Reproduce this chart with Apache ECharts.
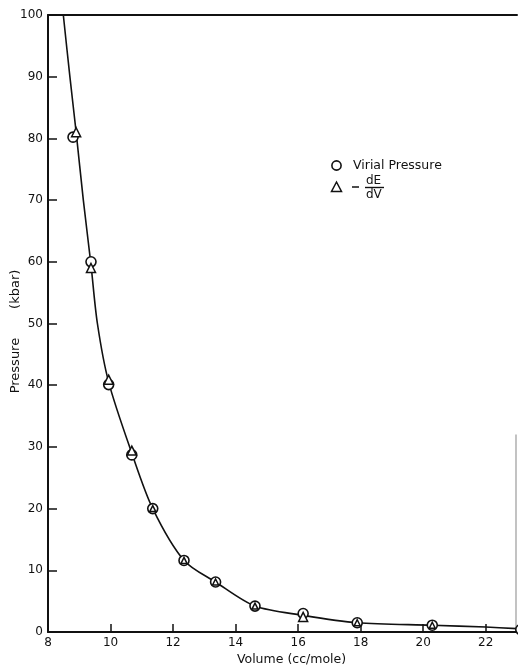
<!DOCTYPE html>
<html>
<head>
<meta charset="utf-8">
<script src="https://cdn.jsdelivr.net/npm/echarts@6/dist/echarts.min.js"></script>
<style>
  html, body { margin: 0; padding: 0; background: #fff; }
  #chart { width: 518px; height: 668px; }
</style>
</head>
<body>
<div id="chart"></div>
<script>
// Axis ranges and tick labels
const volumeTicks = [8, 10, 12, 14, 16, 18, 20, 22];
const pressureTicks = [0, 10, 20, 30, 40, 50, 60, 70, 80, 90, 100];

// Virial pressure (circles)
const virialVolume   = [8.80, 9.375, 9.94, 10.68, 11.35, 12.35, 13.36, 14.62, 16.16, 17.89, 20.29, 23.12];
const virialPressure = [80.2, 60.0, 40.1, 28.7, 20.0, 11.6, 8.1, 4.2, 3.0, 1.5, 1.1, 0.4];

// -dE/dV (triangles)
const dEdVVolume   = [8.90, 9.375, 9.94, 10.68, 11.35, 12.35, 13.36, 14.62, 16.16, 17.89, 20.29];
const dEdVPressure = [81.0, 59.0, 40.9, 29.4, 20.0, 11.6, 8.1, 4.2, 2.45, 1.5, 1.1];

// Drawn pressure-volume curve
const curveVolume   = [8.49, 8.70, 8.90, 9.13, 9.375, 9.58, 9.94, 10.68, 11.35, 12.35, 13.36, 14.62, 16.16, 17.89, 20.29, 22.0, 23.0];
const curvePressure = [100, 90, 81.0, 70, 59.5, 50, 40.5, 29.0, 20.0, 11.6, 8.1, 4.2, 2.7, 1.5, 1.1, 0.8, 0.55];

const FONT = 'DejaVu Sans';
const INK = '#111';

const pairs = (xs, ys) => xs.map((x, i) => [x, ys[i]]);

const chart = echarts.init(document.getElementById('chart'), null, { renderer: 'canvas' });

const option = {
  backgroundColor: '#fff',
  animation: false,
  grid: { left: 48, right: 1, top: 15, bottom: 36, containLabel: false, outerBoundsMode: 'none' },
  xAxis: [
    {
      type: 'value',
      min: volumeTicks[0],
      max: 23,
      interval: 2,
      name: 'Volume (cc/mole)',
      nameLocation: 'middle',
      nameGap: 21,
      nameMoveOverlap: false,
      nameTextStyle: { fontFamily: FONT, fontSize: 12.5, color: INK, padding: [0, 0, 0, 18] },
      axisLine: { show: true, onZero: false, lineStyle: { color: INK, width: 2 } },
      axisTick: { show: true, inside: true, length: 8, lineStyle: { color: INK, width: 1.5 } },
      axisLabel: {
        fontFamily: FONT, fontSize: 12, color: INK, margin: 5,
        showMaxLabel: false,
        formatter: v => (volumeTicks.includes(v) ? String(v) : '')
      },
      splitLine: { show: false }
    },
    {
      type: 'value',
      position: 'top',
      min: volumeTicks[0],
      max: 23,
      axisLine: { show: true, onZero: false, lineStyle: { color: INK, width: 2 } },
      axisTick: { show: false },
      axisLabel: { show: false },
      splitLine: { show: false }
    }
  ],
  yAxis: {
    type: 'value',
    min: pressureTicks[0],
    max: pressureTicks[pressureTicks.length - 1],
    interval: 10,
    name: 'Pressure       (kbar)',
    nameLocation: 'middle',
    nameRotate: 90,
    nameGap: 26,
    nameMoveOverlap: false,
    nameTextStyle: { fontFamily: FONT, fontSize: 13, color: INK, padding: [0, 16, 0, 0] },
    axisLine: { show: true, onZero: false, lineStyle: { color: INK, width: 2 } },
    axisTick: { show: true, inside: true, length: 9, lineStyle: { color: INK, width: 1.5 } },
    axisLabel: { fontFamily: FONT, fontSize: 12, color: INK, margin: 5 },
    splitLine: { show: false }
  },
  series: [
    {
      name: 'curve',
      type: 'line',
      data: pairs(curveVolume, curvePressure),
      smooth: 0.3,
      showSymbol: false,
      symbol: 'none',
      lineStyle: { color: INK, width: 1.6 },
      z: 2,
      silent: true
    },
    {
      name: 'Virial Pressure',
      type: 'scatter',
      data: pairs(virialVolume, virialPressure),
      symbol: 'circle',
      symbolSize: 10,
      clip: false,
      itemStyle: { color: '#fff', borderColor: INK, borderWidth: 1.6, opacity: 1 },
      z: 3
    },
    {
      name: '-dE/dV',
      type: 'scatter',
      data: pairs(dEdVVolume, dEdVPressure),
      symbol: 'triangle',
      symbolSize: (val, params) => {
        const i = params.dataIndex;
        return Math.abs(dEdVPressure[i] - virialPressure[i]) < 0.3 ? 6 : 9;
      },
      clip: false,
      itemStyle: { color: '#fff', borderColor: INK, borderWidth: 1.5, opacity: 1 },
      z: 4
    }
  ]
};

chart.setOption(option);

// Frame edge on the right and the legend keys, with the derivative written as a fraction
const [frameX, frameBottom] = chart.convertToPixel({ gridIndex: 0 }, [23, 0]);
const [, frameTop] = chart.convertToPixel({ gridIndex: 0 }, [23, 32]);

chart.setOption({
  graphic: [
    {
      type: 'line',
      shape: { x1: frameX - 1, y1: frameTop, x2: frameX - 1, y2: frameBottom },
      style: { stroke: '#9a9a9a', lineWidth: 1.2 },
      silent: true
    },
    {
      type: 'circle',
      shape: { cx: 336.5, cy: 165.5, r: 4.6 },
      style: { fill: '#fff', stroke: INK, lineWidth: 1.6 }
    },
    {
      type: 'text',
      left: 353, top: 159,
      style: { text: 'Virial Pressure', fontFamily: FONT, fontSize: 12.5, fill: INK }
    },
    {
      type: 'polygon',
      shape: { points: [[336.5, 182], [331.5, 191.5], [341.5, 191.5]] },
      style: { fill: '#fff', stroke: INK, lineWidth: 1.5 }
    },
    {
      type: 'line',
      shape: { x1: 352, y1: 187, x2: 359, y2: 187 },
      style: { stroke: INK, lineWidth: 1.5 }
    },
    {
      type: 'text',
      left: 366, top: 175,
      style: { text: 'dE', fontFamily: FONT, fontSize: 12, fill: INK }
    },
    {
      type: 'line',
      shape: { x1: 365, y1: 187.5, x2: 384, y2: 187.5 },
      style: { stroke: INK, lineWidth: 1.4 }
    },
    {
      type: 'text',
      left: 366, top: 189,
      style: { text: 'dV', fontFamily: FONT, fontSize: 12, fill: INK }
    }
  ]
});
</script>
</body>
</html>
